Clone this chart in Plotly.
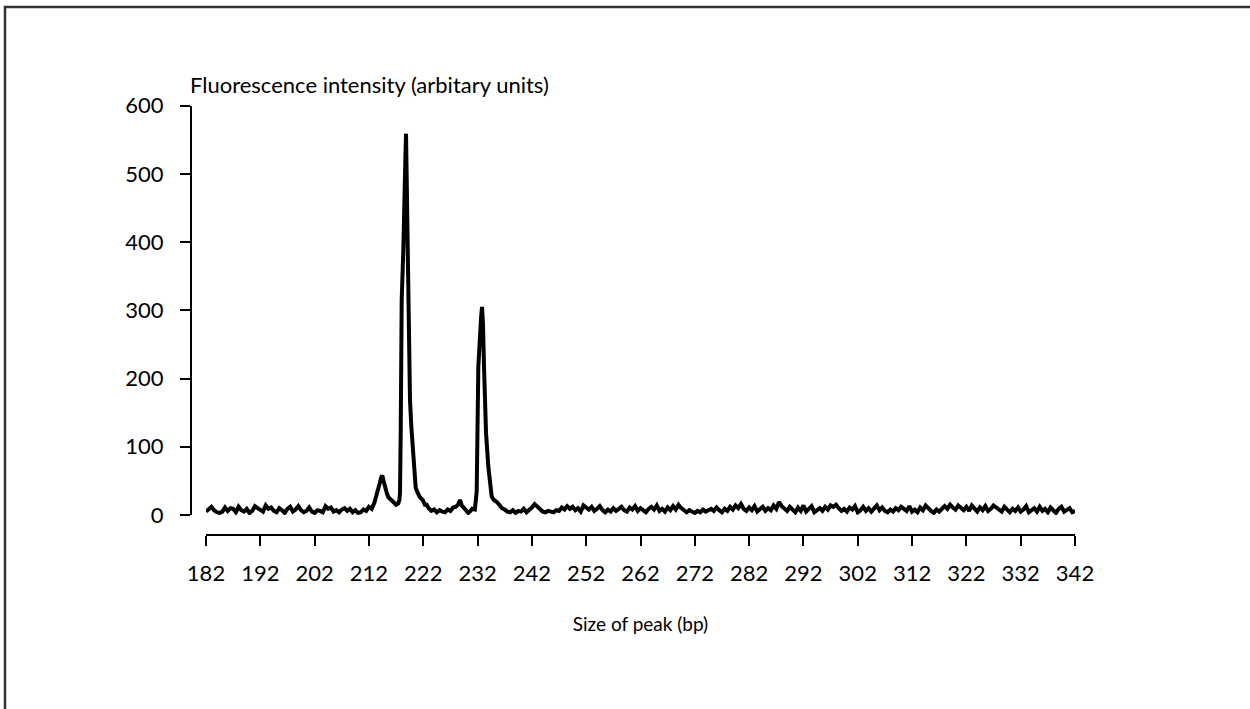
import plotly.graph_objects as go

# ---- data ----
noise_left_start = 182.0
noise_step = 0.5
noise_left = [5, 8, 12, 7, 4, 3, 5, 11, 6, 10, 9, 4, 12, 7, 5, 9, 3, 6, 13, 10,
              8, 5, 14, 9, 11, 6, 4, 10, 7, 3, 9, 12, 5, 8, 13, 7, 4, 6, 11, 5,
              3, 7, 6, 4, 13, 9, 11, 5, 7, 4, 8, 10, 6, 9, 4, 7, 3, 4, 8, 6]

peak_bp = [212.0, 212.5, 213.0, 213.4, 213.7, 214.0, 214.25, 214.46, 214.7, 214.96,
           215.3, 215.57, 216.0, 216.5, 217.0, 217.4, 217.6, 217.72, 217.85, 218.03,
           218.33, 218.5, 218.7, 218.83, 218.95, 219.14, 219.38, 219.56, 219.8, 220.17,
           220.61, 221.0, 221.4, 221.9, 222.3, 222.64, 223.0, 223.5, 224.0, 224.5,
           225.0, 225.5, 226.0, 226.5, 227.0, 227.5, 228.0, 228.4, 228.77, 229.1,
           229.5, 230.0, 230.3, 230.7, 231.0, 231.5, 231.84, 232.14, 232.45, 232.65,
           232.82, 233.0, 233.19, 233.56, 233.98, 234.3, 234.6, 235.0, 235.5, 236.0,
           236.5]
peak_intensity = [12, 9, 18, 32, 36, 47, 55, 58, 50, 40,
                  32, 26, 22, 19, 15, 17, 22, 32, 120, 315,
                  388, 430, 520, 559, 500, 388, 200, 168, 130, 95,
                  40, 32, 26, 22, 15, 15, 10, 6, 8, 4,
                  7, 5, 4, 8, 6, 11, 12, 15, 22, 14,
                  10, 5, 3, 6, 9, 8, 34, 217, 276, 290,
                  305, 280, 217, 120, 71, 45, 27, 22, 19.5, 15,
                  10]

noise_right_start = 237.0
noise_right = [8, 5, 4, 7, 3, 6, 5, 9, 4, 7, 11, 16, 12, 7, 5, 4, 6, 5, 4, 7,
               6, 11, 8, 13, 9, 12, 7, 10, 5, 14, 11, 8, 12, 6, 9, 13, 7, 4, 8, 5,
               10, 6, 9, 12, 7, 5, 11, 8, 13, 6, 10, 7, 4, 9, 12, 8, 14, 6, 9, 5,
               11, 7, 13, 8, 15, 10, 6, 4, 7, 5, 3, 6, 4, 8, 5, 7, 9, 6, 11, 7,
               4, 9, 6, 12, 8, 14, 10, 16, 9, 6, 11, 7, 13, 5, 8, 12, 6, 10, 7, 14,
               9, 19, 13, 10, 6, 12, 8, 4, 11, 6, 14, 5, 9, 13, 4, 7, 10, 6, 12, 8,
               14, 12, 15, 10, 6, 9, 5, 11, 8, 13, 4, 7, 12, 6, 10, 5, 9, 14, 7, 11,
               6, 4, 8, 5, 10, 7, 12, 9, 6, 13, 5, 8, 4, 11, 7, 14, 9, 6, 3, 8,
               5, 10, 13, 9, 15, 11, 8, 14, 10, 7, 12, 6, 14, 9, 5, 11, 7, 13, 6, 9,
               14, 11, 8, 5, 12, 7, 4, 9, 6, 11, 5, 8, 13, 4, 7, 10, 5, 12, 6, 9,
               4, 11, 7, 3, 9, 12, 5, 8, 10, 4, 6]

x_ticks = [182, 192, 202, 212, 222, 232, 242, 252, 262, 272, 282, 292, 302, 312, 322, 332, 342]
y_ticks = [0, 100, 200, 300, 400, 500, 600]

x_title = "Size of peak (bp)"
y_title = "Fluorescence intensity (arbitary units)"

# ---- assemble series ----
size_bp = ([noise_left_start + i * noise_step for i in range(len(noise_left))]
           + peak_bp
           + [noise_right_start + i * noise_step for i in range(len(noise_right))])
intensity = noise_left + peak_intensity + noise_right

W, H = 1250, 709
FONT = "Lato"
FS = 22

fig = go.Figure()
fig.add_trace(go.Scatter(x=size_bp, y=intensity, mode="lines",
                         line=dict(color="black", width=4), showlegend=False,
                         hoverinfo="x+y"))

fig.update_layout(
    width=W, height=H,
    margin=dict(l=0, r=0, t=0, b=0, autoexpand=False),
    paper_bgcolor="white", plot_bgcolor="white",
    font=dict(family=FONT, size=FS, color="black"),
    xaxis=dict(domain=[206 / W, 1075 / W], range=[182, 342],
               tickvals=x_ticks, ticktext=[str(v) for v in x_ticks],
               ticks="outside", ticklen=10, tickwidth=2, tickcolor="black",
               showline=True, linewidth=2, linecolor="black",
               showgrid=False, zeroline=False, automargin=False,
               anchor="free", position=1 - 535 / H,
               ticklabelstandoff=9,
               title=dict(text=x_title, font=dict(size=19), standoff=31)),
    yaxis=dict(domain=[1 - 515 / H, 1 - 105.7 / H], range=[0, 600],
               tickvals=y_ticks,
               ticks="outside", ticklen=10, tickwidth=2, tickcolor="black",
               showline=True, linewidth=2, linecolor="black",
               showgrid=False, zeroline=False, automargin=False,
               anchor="free", position=191 / W,
               ticklabelstandoff=12),
    annotations=[dict(text=y_title, xref="paper", yref="paper",
                      x=188 / W, y=1 - 84 / H, xanchor="left", yanchor="middle",
                      showarrow=False, font=dict(size=FS, family=FONT))],
    shapes=[dict(type="rect", xref="paper", yref="paper",
                 x0=5 / W, x1=1.02, y0=-0.02, y1=1 - 7 / H,
                 line=dict(color="#333333", width=2.5), fillcolor="rgba(0,0,0,0)",
                 layer="below")],
)

fig.write_html("out.html")
